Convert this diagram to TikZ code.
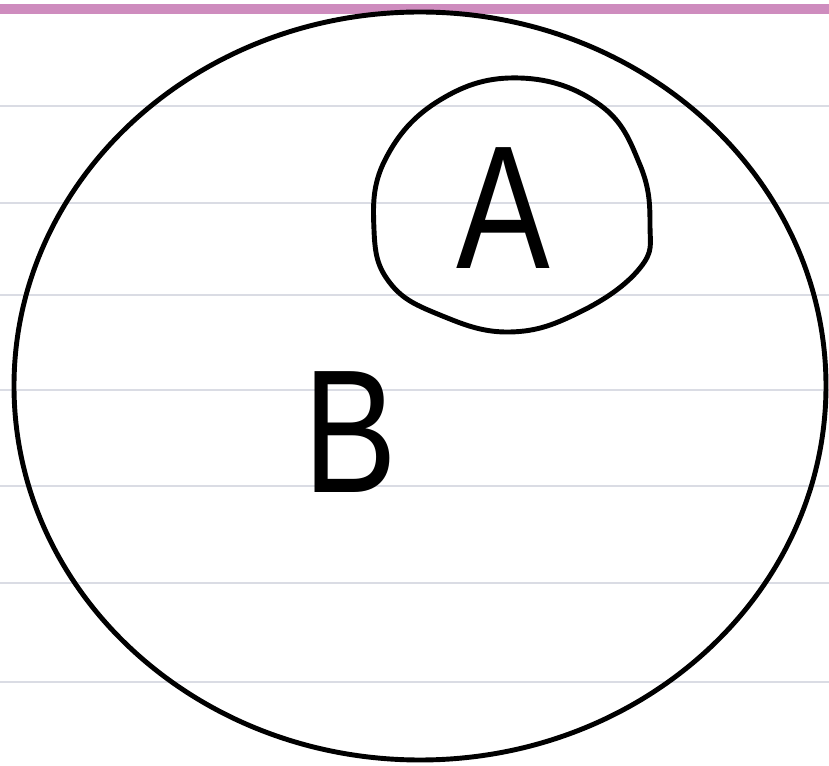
\documentclass[tikz,border=0pt]{standalone}
\usepackage{fontspec}
\setmainfont{Liberation Sans}
\definecolor{marginpink}{RGB}{206,140,190}
\definecolor{rulegray}{RGB}{218,220,228}

\newcommand{\notepaper}{%
  \fill[white] (0,0) rectangle (829,766);                     % sheet
  \fill[marginpink] (0,4) rectangle (829,14);                 % top margin rule
  \foreach \r in {106,203,295,390,486,583,682}{
    \draw[line width=1.6pt, rulegray] (0,\r) -- (829,\r);}}

\begin{document}
\begin{tikzpicture}[x=0.02cm,y=-0.02cm,
    pen/.style={draw=black, line width=2.8pt, line join=round},
    letter/.style={font=\fontsize{100}{100}\selectfont, inner sep=0pt, xscale=0.8, transform shape}]
    \useasboundingbox (0,0) rectangle (829,766);
    % ---- lined paper ----
    \notepaper
    % ---- set B (outer) ----
    \draw[pen] (420,386) ellipse [x radius=406, y radius=374];
    % ---- set A (inner) ----
    \draw[pen] plot[smooth cycle, tension=0.7] coordinates {
      (520,78) (600,105) (640,165) (650,225) (640,268)
      (580,312) (510,332) (440,315) (390,283) (374,230)
      (385,160) (440,100)};
    % ---- labels ----
    \node[letter] (labA) at (503,208) {A};
    \node[letter] (labB) at (350,432) {B};
\end{tikzpicture}
\end{document}
